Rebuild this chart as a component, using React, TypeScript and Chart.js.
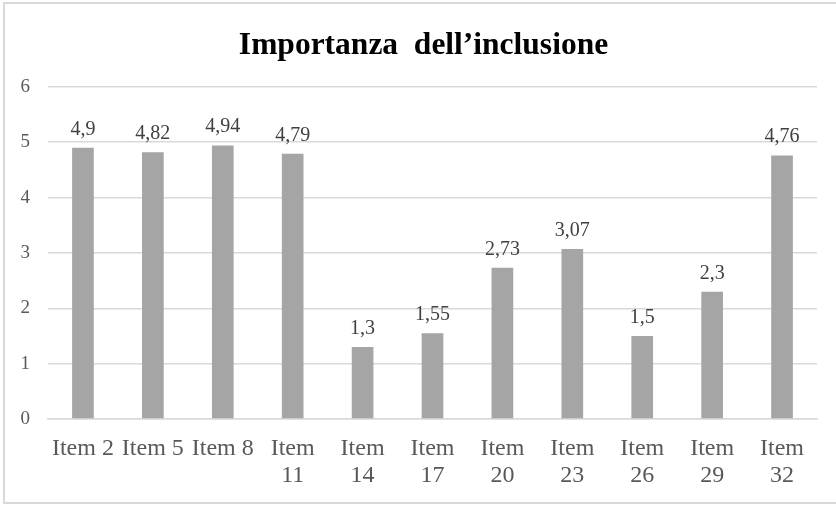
import React, { useEffect, useRef } from "react";
import { Chart, registerables } from "chart.js";

Chart.register(...registerables);

const categories: (string | string[])[] = [
  "Item 2",
  "Item 5",
  "Item 8",
  ["Item", "11"],
  ["Item", "14"],
  ["Item", "17"],
  ["Item", "20"],
  ["Item", "23"],
  ["Item", "26"],
  ["Item", "29"],
  ["Item", "32"],
];
const importanceValues: number[] = [4.9, 4.82, 4.94, 4.79, 1.3, 1.55, 2.73, 3.07, 1.5, 2.3, 4.76];
const yTicks: number[] = [0, 1, 2, 3, 4, 5, 6];
const chartTitle = "Importanza  dell\u2019inclusione";

const SERIF = "'Liberation Serif', 'Times New Roman', serif";

const valueLabelPlugin = {
  id: "valueLabels",
  afterDatasetsDraw(chart: any) {
    const ctx = chart.ctx;
    ctx.save();
    ctx.font = `20px ${SERIF}`;
    ctx.fillStyle = "#404040";
    ctx.textAlign = "center";
    ctx.textBaseline = "alphabetic";
    chart.data.datasets.forEach((ds: any, di: number) => {
      const meta = chart.getDatasetMeta(di);
      meta.data.forEach((el: any, i: number) => {
        const v = ds.data[i];
        ctx.fillText(String(v).replace(".", ","), el.x, el.y - 13);
      });
    });
    ctx.restore();
  },
};

// nudge the title box so the title sits where it does in the reference
const titleShiftPlugin = {
  id: "titleShift",
  afterLayout(chart: any) {
    if (chart.titleBlock) {
      chart.titleBlock.left = 30;
    }
  },
};

export default function App() {
  const canvasRef = useRef<HTMLCanvasElement | null>(null);

  useEffect(() => {
    if (!canvasRef.current) return;
    const chart = new Chart(canvasRef.current, {
      type: "bar",
      data: {
        labels: categories,
        datasets: [
          {
            data: importanceValues,
            backgroundColor: "#A5A5A5",
            barPercentage: 0.31,
            categoryPercentage: 1,
          },
        ],
      },
      options: {
        animation: false,
        responsive: false,
        maintainAspectRatio: false,
        devicePixelRatio: 1,
        layout: { padding: { left: 14, right: 19, top: 0, bottom: 0 } },
        plugins: {
          legend: { display: false },
          tooltip: { enabled: false },
          title: {
            display: true,
            text: chartTitle,
            color: "#000000",
            font: { family: SERIF, size: 31.5, weight: "bold", lineHeight: 1.2 },
            padding: { top: 27, bottom: 22 },
          },
        },
        scales: {
          x: {
            grid: { display: false, drawTicks: false },
            border: { display: true, color: "#D9D9D9", width: 1.5 },
            ticks: {
              color: "#595959",
              font: { family: SERIF, size: 24, lineHeight: 1.09 },
              padding: 17,
              maxRotation: 0,
              autoSkip: false,
            },
            afterFit: (scale: any) => {
              scale.height = 86;
            },
          },
          y: {
            min: 0,
            max: 6,
            afterBuildTicks: (scale: any) => {
              scale.ticks = yTicks.map((v) => ({ value: v }));
            },
            grid: { color: "#D9D9D9", lineWidth: 1.5, drawTicks: false },
            border: { display: false },
            ticks: {
              color: "#595959",
              font: { family: SERIF, size: 19 },
              padding: 18,
            },
            afterFit: (scale: any) => {
              scale.width = 34;
            },
          },
        },
      },
      plugins: [valueLabelPlugin, titleShiftPlugin],
    });
    return () => chart.destroy();
  }, []);

  return (
    <div
      style={{
        position: "fixed",
        left: 0,
        top: 0,
        width: 836,
        height: 505,
        overflow: "hidden",
        background: "#ffffff",
      }}
    >
      <canvas ref={canvasRef} width={836} height={505} style={{ position: "absolute", left: 0, top: 0, width: 836, height: 505 }} />
      <div
        style={{
          position: "absolute",
          left: 3,
          top: 2,
          width: 850,
          height: 502,
          boxSizing: "border-box",
          border: "2px solid #D9D9D9",
          pointerEvents: "none",
        }}
      />
    </div>
  );
}
